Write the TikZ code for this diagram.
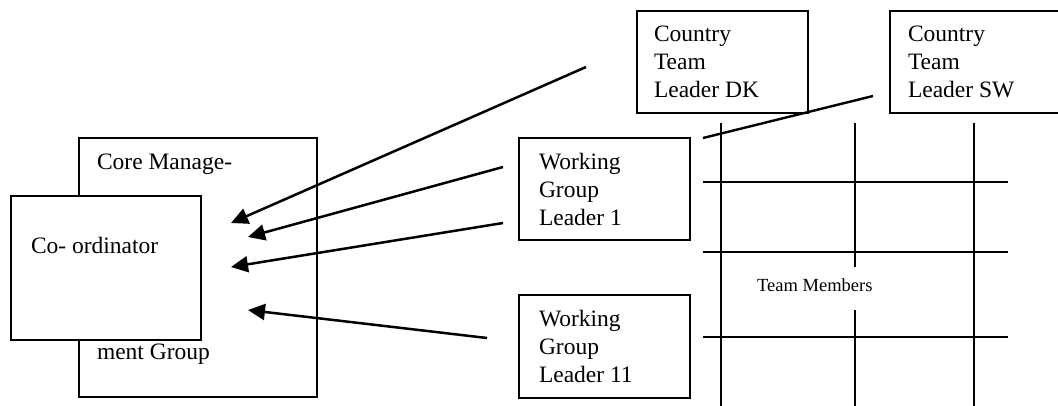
\documentclass[tikz,border=0pt]{standalone}
\usepackage{fontspec}
\setmainfont{Liberation Serif}
\usetikzlibrary{arrows.meta}
\begin{document}
\begin{tikzpicture}[x=1pt,y=-1pt,
  box/.style={draw=black,line width=2.4pt,fill=white,inner sep=0pt,outer sep=0pt,anchor=north west},
  lbl/.style={anchor=base west,inner sep=0pt,outer sep=0pt,align=left,font=\fontsize{23.5}{28}\selectfont},
  small/.style={anchor=base west,inner sep=0pt,font=\fontsize{18.5}{21}\selectfont},
  gridline/.style={line width=2.4pt,line cap=butt},
  arr/.style={line width=2.5pt,-{Triangle[length=17pt,width=16pt]}}
]
\useasboundingbox[fill=white] (0,0) rectangle (1058,405);

% boxes
\node[box,minimum width=238pt,minimum height=259pt] (core) at (79,138) {};
\node[box,minimum width=190pt,minimum height=144pt] (coord) at (11,196) {};
\node[box,minimum width=171pt,minimum height=102pt] (dk) at (637,11) {};
\node[box,minimum width=171pt,minimum height=102pt] (sw) at (890,11) {};
\node[box,minimum width=171pt,minimum height=102pt] (wg1) at (519,138) {};
\node[box,minimum width=171pt,minimum height=103pt] (wg11) at (519,295) {};

% texts (base anchor = baseline of last line)
\node[lbl] (coretop) at (97,169) {Core Manage-};
\node[lbl] (corebot) at (97,359) {ment Group};
\node[lbl] (coordt) at (31,253) {Co- ordinator};
\node[lbl] (dkt) at (654,97) {Country\\Team\\Leader DK};
\node[lbl] (swt) at (908,97) {Country\\Team\\Leader SW};
\node[lbl] (wg1t) at (539,225) {Working\\Group\\Leader 1};
\node[lbl] (wg11t) at (539,382) {Working\\Group\\Leader 11};
\node[small] (tm) at (757,291) {Team Members};

% grid
\draw[gridline] (721,123) -- (721,407);
\draw[gridline] (855,123) -- (855,267);
\draw[gridline] (855,310) -- (855,407);
\draw[gridline] (974,123) -- (974,407);
\draw[gridline] (703,182) -- (1008,182);
\draw[gridline] (703,252) -- (1008,252);
\draw[gridline] (703,337) -- (1008,337);

% line from SW
\coordinate (l1s) at (873,96);
\coordinate (l1e) at (703,138);
\draw[gridline] (l1s) -- (l1e);

% arrows
\coordinate (a1s) at (586,67);  \coordinate (a1e) at (231,223);
\coordinate (a2s) at (503,167); \coordinate (a2e) at (248,237);
\coordinate (a3s) at (503,223); \coordinate (a3e) at (231,267);
\coordinate (a4s) at (487,338); \coordinate (a4e) at (248,310);
\draw[arr] (a1s) -- (a1e);
\draw[arr] (a2s) -- (a2e);
\draw[arr] (a3s) -- (a3e);
\draw[arr] (a4s) -- (a4e);
\end{tikzpicture}
\end{document}
